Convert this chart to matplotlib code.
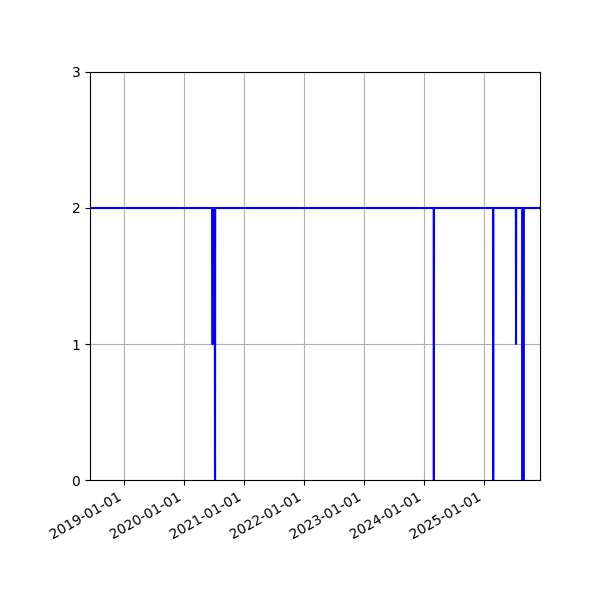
import matplotlib
matplotlib.use("Agg")
import matplotlib.pyplot as plt
import matplotlib.dates as mdates
import pandas as pd

# dates where the value changes (line holds 2 otherwise)
dates = [
    "2018-06-08",
    "2020-06-20", "2020-06-21", "2020-06-29", "2020-06-30",
    "2020-07-06", "2020-07-07", "2020-07-08", "2020-07-09",
    "2024-02-29", "2024-03-01", "2024-03-02",
    "2025-02-24", "2025-02-25", "2025-02-26",
    "2025-07-13", "2025-07-14", "2025-07-15",
    "2025-08-22", "2025-08-23", "2025-08-24",
    "2025-08-27", "2025-08-28", "2025-08-29",
    "2025-12-07",
]
values = [
    2,
    2, 1, 1, 2,
    2, 1, 0, 2,
    2, 0, 2,
    2, 0, 2,
    2, 1, 2,
    2, 0, 2,
    2, 0, 2,
    2,
]

x = pd.to_datetime(dates)

fig = plt.figure(figsize=(6, 6), dpi=100)
ax = fig.add_axes([0.15, 0.2, 0.75, 0.68])
ax.plot(x, values, color="blue", linewidth=1.5)

ax.set_ylim(0, 3)
ax.set_yticks([0, 1, 2, 3])
ax.set_xlim(x[0], x[-1])
ax.xaxis.set_major_locator(mdates.YearLocator())
ax.xaxis.set_major_formatter(mdates.DateFormatter("%Y-%m-%d"))
ax.grid(True)
for lbl in ax.get_xticklabels():
    lbl.set_rotation(30)
    lbl.set_ha("right")

fig.savefig("out.png", dpi=100)
